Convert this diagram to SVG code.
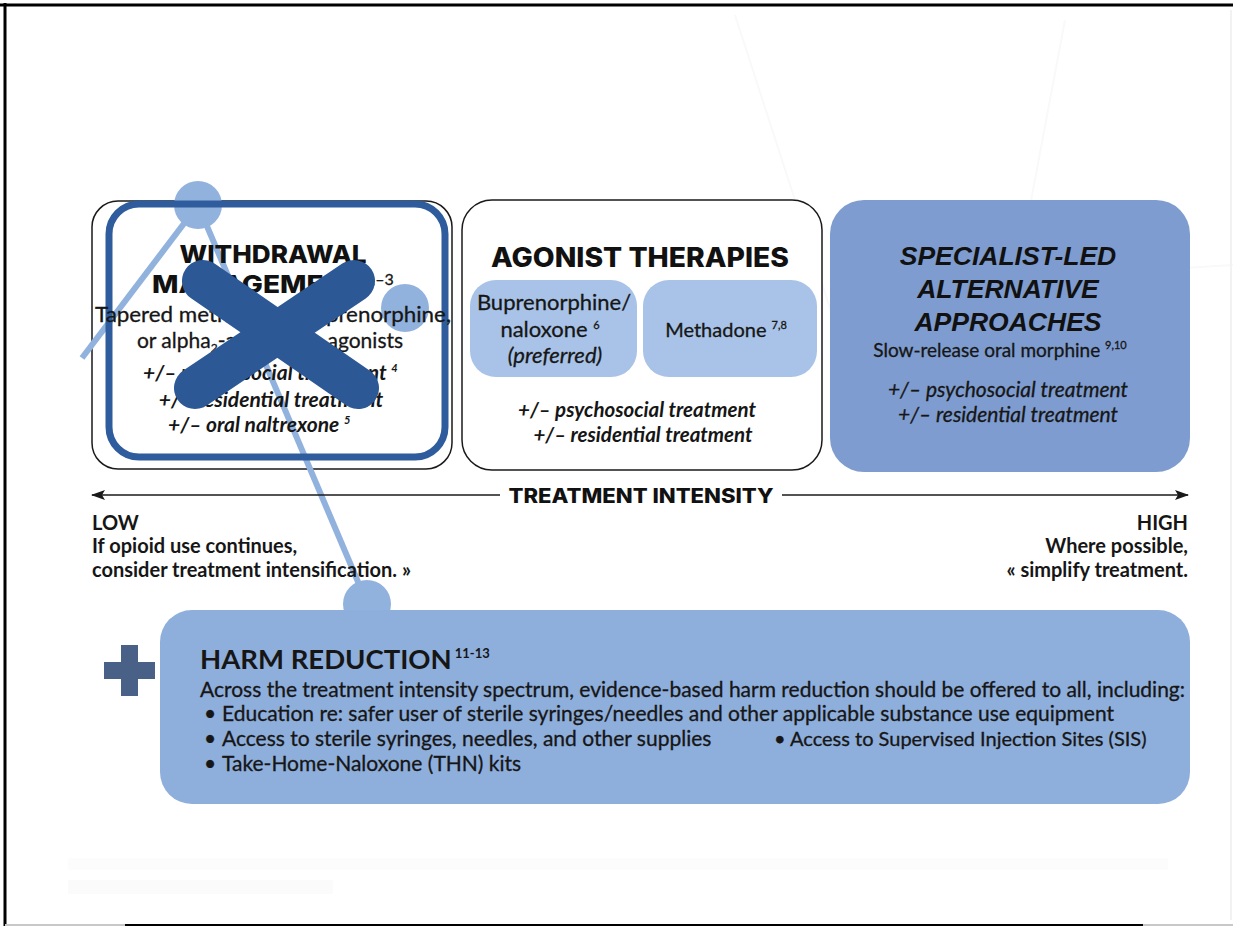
<svg xmlns="http://www.w3.org/2000/svg" width="1233" height="926" viewBox="0 0 1233 926">
  <defs>
    <style>
      .body { font-family: Lato, "Liberation Sans", sans-serif; fill: #161616; stroke: #161616; stroke-width: 0.3; }
      .title { font-family: Inter, "Liberation Sans", sans-serif; font-weight: 800; fill: #111; }
      .bi { font-family: Lato, "Liberation Sans", sans-serif; font-weight: 700; font-style: italic; fill: #161616; }
      .it { font-family: Lato, "Liberation Sans", sans-serif; font-style: italic; fill: #161616; stroke: #161616; stroke-width: 0.3; }
      .b { font-family: Lato, "Liberation Sans", sans-serif; font-weight: 700; fill: #161616; }
      .sup { font-size: 11px; }
      .decor { stroke: #92b2de; stroke-width: 6; fill: none; }
      .dot { fill: #92b2de; }
      .outline { fill: #ffffff; stroke: #1a1a1a; stroke-width: 1.5; }
      .pill { fill: #a8c3e7; }
    </style>
    <marker id="arr" viewBox="0 0 14 10" refX="13" refY="5" markerWidth="14" markerHeight="10" markerUnits="userSpaceOnUse" orient="auto-start-reverse">
      <path d="M0,0 L14,5 L0,10 L3,5 Z" fill="#1a1a1a"/>
    </marker>
  </defs>

  <rect x="0" y="0" width="1233" height="926" fill="#ffffff"/>

  <!-- faint background -->
  <g id="background" stroke="#f9f9f9" stroke-width="2" fill="none">
    <path d="M735,15 L850,370 L1070,275 L1233,265"/>
    <path d="M1065,20 L985,445"/>
    <line x1="1231" y1="10" x2="1231" y2="920" stroke="#f2f2f2"/>
    <rect x="68" y="858" width="1100" height="12" fill="#fcfcfc" stroke="none"/>
    <rect x="68" y="880" width="265" height="14" fill="#fbfbfb" stroke="none"/>
  </g>

  <!-- frame -->
  <g id="frame">
    <line x1="0" y1="5" x2="1233" y2="5" stroke="#000" stroke-width="3"/>
    <line x1="5" y1="3" x2="5" y2="926" stroke="#000" stroke-width="3"/>
    <line x1="5" y1="925" x2="1233" y2="925" stroke="#c8c8c8" stroke-width="2"/>
    <line x1="125" y1="925" x2="1143" y2="925" stroke="#000" stroke-width="2"/>
  </g>

  <!-- Withdrawal management -->
  <g id="node-withdrawal">
    <rect class="outline" x="92" y="201" width="360" height="268" rx="26"/>
    <g id="decor-network">
      <line class="decor" x1="82" y1="358" x2="198" y2="205"/>
      <line class="decor" x1="198" y1="205" x2="367" y2="603"/>
      <circle class="dot" cx="198" cy="205" r="24"/>
      <circle class="dot" cx="405" cy="308" r="24"/>
      <circle class="dot" cx="367" cy="604" r="24"/>
    </g>
    <rect x="109" y="204" width="336" height="253" rx="30" fill="none" stroke="#2f5c9c" stroke-width="7"/>
    <text class="title" x="273" y="263" font-size="25" text-anchor="middle" textLength="187" lengthAdjust="spacingAndGlyphs">WITHDRAWAL</text>
    <text class="title" x="152" y="293" font-size="25" textLength="212" lengthAdjust="spacingAndGlyphs">MANAGEMENT</text>
    <text class="body" x="366" y="285" font-size="16">1–3</text>
    <text class="body" x="273" y="322" font-size="21" text-anchor="middle" textLength="356" lengthAdjust="spacingAndGlyphs">Tapered methadone, buprenorphine,</text>
    <text class="body" x="270" y="348" font-size="21" text-anchor="middle">or alpha<tspan font-size="12" dy="4">2</tspan><tspan dy="-4">-adrenergic agonists</tspan></text>
    <text class="bi" x="143" y="380" font-size="21">+/– psychosocial treatment <tspan class="sup" dy="-8">4</tspan></text>
    <text class="bi" x="271" y="407" font-size="21" text-anchor="middle">+/– residential treatment</text>
    <text class="bi" x="168" y="432" font-size="21">+/– oral naltrexone <tspan class="sup" dy="-8">5</tspan></text>
    <g id="cross" stroke="#2d5896" stroke-width="42" stroke-linecap="round">
      <line x1="203" y1="281" x2="358" y2="388"/>
      <line x1="354" y1="281" x2="195" y2="388"/>
    </g>
  </g>

  <!-- Agonist therapies -->
  <g id="node-agonist">
    <rect class="outline" x="462" y="200" width="360" height="270" rx="30"/>
    <text class="title" x="640" y="267" font-size="27" text-anchor="middle" textLength="298" lengthAdjust="spacingAndGlyphs">AGONIST THERAPIES</text>
    <g id="node-bupe">
      <rect class="pill" x="470" y="280" width="167" height="97" rx="26"/>
      <text class="body" x="554" y="310" font-size="22" text-anchor="middle">Buprenorphine/</text>
      <text class="body" x="550" y="337" font-size="22" text-anchor="middle">naloxone <tspan class="sup" dy="-8">6</tspan></text>
      <text class="it" x="555" y="363" font-size="22" text-anchor="middle">(preferred)</text>
    </g>
    <g id="node-methadone">
      <rect class="pill" x="643" y="280" width="174" height="97" rx="26"/>
      <text class="body" x="726" y="337" font-size="20" text-anchor="middle">Methadone <tspan class="sup" dy="-8">7,8</tspan></text>
    </g>
    <text class="bi" x="637" y="417" font-size="20.5" text-anchor="middle">+/– psychosocial treatment</text>
    <text class="bi" x="643" y="442" font-size="20.5" text-anchor="middle">+/– residential treatment</text>
  </g>

  <!-- Specialist-led -->
  <g id="node-specialist">
    <rect x="830" y="200" width="360" height="272" rx="34" fill="#7e9ccf"/>
    <g font-family="'Liberation Sans', Arial, sans-serif" font-weight="700" font-style="italic" font-size="26.5" fill="#111" text-anchor="middle">
      <text x="1008" y="265">SPECIALIST-LED</text>
      <text x="1008" y="298">ALTERNATIVE</text>
      <text x="1008" y="331">APPROACHES</text>
    </g>
    <text class="body" x="1000" y="357" font-size="19" text-anchor="middle">Slow-release oral morphine <tspan class="sup" dy="-8">9,10</tspan></text>
    <text class="it" x="1008" y="397" font-size="21" text-anchor="middle">+/– psychosocial treatment</text>
    <text class="it" x="1008" y="422" font-size="21" text-anchor="middle">+/– residential treatment</text>
  </g>

  <!-- Treatment intensity axis -->
  <g id="connectors">
    <line x1="92" y1="495" x2="1188" y2="495" stroke="#1a1a1a" stroke-width="1.6" marker-start="url(#arr)" marker-end="url(#arr)"/>
    <rect x="500" y="484" width="282" height="22" fill="#ffffff"/>
    <text class="title" x="641" y="503" font-size="20" font-weight="700" text-anchor="middle" textLength="265" lengthAdjust="spacingAndGlyphs">TREATMENT INTENSITY</text>
  </g>

  <g id="label-low">
    <text class="b" x="92" y="530" font-size="20" font-weight="900">LOW</text>
    <text class="b" x="92" y="553" font-size="20">If opioid use continues,</text>
    <text class="b" x="92" y="577" font-size="20">consider treatment intensification.  »</text>
  </g>
  <g id="label-high" text-anchor="end">
    <text class="b" x="1188" y="530" font-size="20" font-weight="900">HIGH</text>
    <text class="b" x="1188" y="553" font-size="20">Where possible,</text>
    <text class="b" x="1188" y="577" font-size="20">«  simplify treatment.</text>
  </g>

  <!-- Harm reduction -->
  <g id="node-harm">
    <rect x="160" y="610" width="1030" height="194" rx="32" fill="#8eaedb"/>
    <g id="plus" fill="#4a6187">
      <rect x="104" y="662" width="51" height="17"/>
      <rect x="121" y="645" width="17" height="51"/>
    </g>
    <text class="b" x="200" y="669" font-size="27.5">HARM REDUCTION<tspan font-size="13" dy="-11" dx="3">11-13</tspan></text>
    <text class="body" x="200" y="697" font-size="21">Across the treatment intensity spectrum, evidence-based harm reduction should be offered to all, including:</text>
    <text class="body" x="204" y="721" font-size="21">•<tspan x="222">Education re: safer user of sterile syringes/needles and other applicable substance use equipment</tspan></text>
    <text class="body" x="204" y="746" font-size="21">•<tspan x="222">Access to sterile syringes, needles, and other supplies</tspan></text>
    <text class="body" x="774" y="746" font-size="20">•<tspan x="790" font-size="20">Access to Supervised Injection Sites (SIS)</tspan></text>
    <text class="body" x="204" y="771" font-size="21">•<tspan x="222">Take-Home-Naloxone (THN) kits</tspan></text>
  </g>
</svg>
